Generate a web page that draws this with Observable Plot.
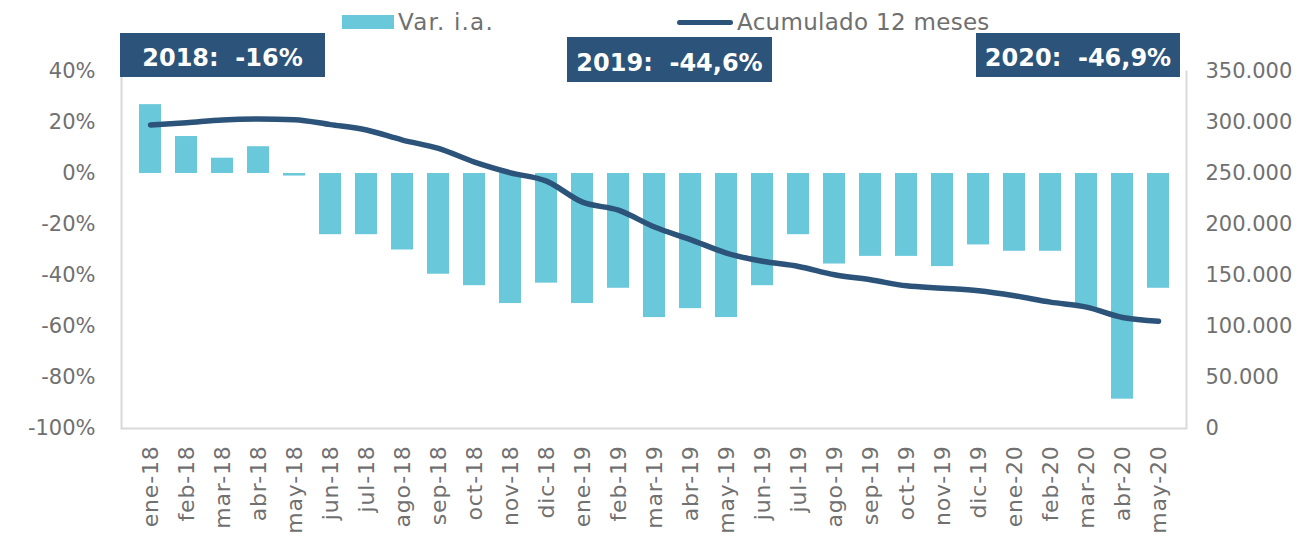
<!DOCTYPE html>
<html>
<head>
<meta charset="utf-8">
<script src="https://cdn.jsdelivr.net/npm/d3@7"></script>
<script src="https://cdn.jsdelivr.net/npm/@observablehq/plot@0.6"></script>
<style>
  body { margin: 0; background: #fff; }
  #wrap { position: relative; width: 1314px; height: 536px; font-family: "DejaVu Sans", sans-serif; overflow: hidden; }
  #wrap svg { position: absolute; left: 0; top: 0; }
  .legend { position: absolute; top: 9px; height: 26px; display: flex; align-items: center; color: #6f6f6f; font-size: 23px; white-space: nowrap; }
  .swatch-bar { width: 52px; height: 14px; margin-right: 4px; }
  .swatch-line { width: 56px; height: 5px; border-radius: 3px; margin-right: 4px; }
  .box { position: absolute; color: #fff; font-weight: bold; font-size: 24px; display: flex; align-items: center; justify-content: center; padding-top: 6px; box-sizing: border-box; white-space: pre; }
  .xt text { letter-spacing: 0.8px; }
</style>
</head>
<body>
<div id="wrap"></div>
<script>
// ---- data ----
const meses = ["ene-18","feb-18","mar-18","abr-18","may-18","jun-18","jul-18","ago-18","sep-18","oct-18","nov-18","dic-18",
               "ene-19","feb-19","mar-19","abr-19","may-19","jun-19","jul-19","ago-19","sep-19","oct-19","nov-19","dic-19",
               "ene-20","feb-20","mar-20","abr-20","may-20"];
const varIA = [27, 14.5, 6, 10.5, -1, -24, -24, -30, -39.5, -44, -51, -43,
               -51, -45, -56.5, -53, -56.5, -44, -24, -35.5, -32.5, -32.5, -36.5, -28,
               -30.5, -30.5, -53, -88.5, -45];
const acumulado = [297600, 299800, 302500, 303400, 302800, 297900, 292600, 282800, 274600, 261200, 250700, 242500,
                   221900, 214000, 197500, 185200, 172000, 163900, 158900, 150700, 145800, 139900, 137600, 135000,
                   130100, 123900, 119000, 108800, 105200];
const ticksIzq = [-100, -80, -60, -40, -20, 0, 20, 40];
const ticksDer = [0, 50000, 100000, 150000, 200000, 250000, 300000, 350000];
const series = ["Var. i.a.", "Acumulado 12 meses"];
const anotaciones = ["2018:  -16%", "2019:  -44,6%", "2020:  -46,9%"];

// ---- styles ----
const cBar = "#69c8da", cLine = "#2c5379", cText = "#707070", cAxis = "#d9d9d9";
const izqMin = -100, izqMax = 40, derMax = 350000;
const toIzq = v => izqMin + v / derMax * (izqMax - izqMin);
const fromIzq = y => (y - izqMin) / (izqMax - izqMin) * derMax;
const fmtMiles = d3.formatLocale({decimal: ",", thousands: ".", grouping: [3], currency: ["", ""]}).format(",.0f");

const data = meses.map((m, i) => ({mes: m, var: varIA[i], acum: acumulado[i]}));

const chart = Plot.plot({
  width: 1314,
  height: 536,
  marginLeft: 121,
  marginRight: 128,
  marginTop: 71,
  marginBottom: 108,
  style: {fontFamily: "DejaVu Sans, sans-serif", fontSize: "21px", color: cText, background: "#fff"},
  x: {type: "band", domain: meses, padding: 0.4, label: null},
  y: {domain: [izqMin, izqMax], label: null},
  marks: [
    Plot.barY(data, {x: "mes", y: "var", fill: cBar}),
    Plot.ruleY([izqMin], {stroke: cAxis, strokeWidth: 2}),
    Plot.frame({anchor: "left", stroke: cAxis, strokeWidth: 2}),
    Plot.frame({anchor: "right", stroke: cAxis, strokeWidth: 2}),
    Plot.line(data, {x: "mes", y: d => toIzq(d.acum), stroke: cLine, strokeWidth: 5.5, curve: "monotone-x", strokeLinecap: "round", strokeLinejoin: "round"}),
    Plot.axisY({anchor: "left", ticks: ticksIzq, tickSize: 0, tickPadding: 26, tickFormat: d => d + "%", fill: cText, fontSize: 21}),
    Plot.axisY({anchor: "right", ticks: ticksDer.map(toIzq), tickSize: 0, tickPadding: 19, tickFormat: d => fmtMiles(Math.round(fromIzq(d))), fill: cText, fontSize: 21}),
    Plot.axisX({tickRotate: -90, tickSize: 0, tickPadding: 17, fill: cText, fontSize: 22, label: null, className: "xt"})
  ]
});

const wrap = document.getElementById("wrap");
wrap.appendChild(chart);

// legend
const lg1 = document.createElement("div");
lg1.className = "legend"; lg1.style.left = "342px"; lg1.style.letterSpacing = "1.2px";
lg1.innerHTML = `<div class="swatch-bar" style="background:${cBar}"></div><span>${series[0]}</span>`;
wrap.appendChild(lg1);
const lg2 = document.createElement("div");
lg2.className = "legend"; lg2.style.left = "677px"; lg2.style.letterSpacing = "0.3px";
lg2.innerHTML = `<div class="swatch-line" style="background:${cLine}"></div><span>${series[1]}</span>`;
wrap.appendChild(lg2);

// annotation boxes
const boxPos = [[120, 33, 205, 44], [567, 37, 205, 45], [976, 33, 204, 44]];
anotaciones.forEach((t, i) => {
  const b = document.createElement("div");
  b.className = "box";
  const [l, tp, w, h] = boxPos[i];
  b.style.left = l + "px"; b.style.top = tp + "px"; b.style.width = w + "px"; b.style.height = h + "px";
  b.style.background = cLine;
  b.textContent = t;
  wrap.appendChild(b);
});
</script>
</body>
</html>
